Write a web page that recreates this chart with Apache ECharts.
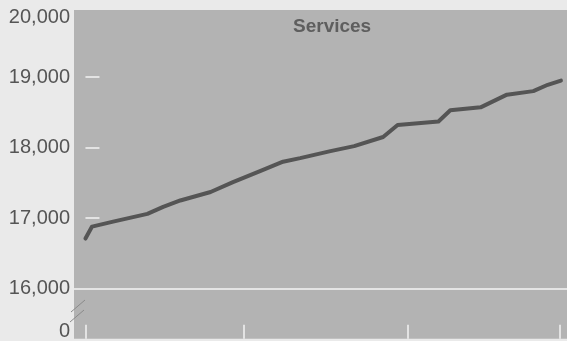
<!DOCTYPE html>
<html>
<head>
<meta charset="utf-8">
<script src="https://cdn.jsdelivr.net/npm/echarts@6/dist/echarts.min.js"></script>
<style>
  html, body { margin: 0; padding: 0; background: #eaeaea; }
  #chart { width: 567px; height: 341px; }
</style>
</head>
<body>
<div id="chart"></div>
<script>
// Month index from the start of the period (0 = first month)
const months = [0, 0.5, 2.1, 4.7, 5.9, 7.2, 9.5, 11.2, 13.3, 15.0, 16.3, 18.6,
                20.4, 22.6, 23.7, 26.8, 27.7, 30.0, 32.0, 34.0, 35.1, 36.1];
// Employment in services, thousands
const services = [16710, 16880, 16950, 17060, 17160, 17250, 17370, 17510, 17670,
                  17800, 17850, 17950, 18020, 18150, 18320, 18370, 18530, 18570,
                  18750, 18800, 18890, 18950];
// Tick positions on the time axis (year boundaries)
const yearTicks = [0, 12, 24.5, 36];
// Labelled values on the value axis; the lowest stands for the broken zero
const yLabelValues = [15400, 16000, 17000, 18000, 19000, 19840];
const yLabelText = ['0', '16,000', '17,000', '18,000', '19,000', '20,000'];
const yTickValues = [17000, 18000, 19000];

const chart = echarts.init(document.getElementById('chart'), null, { renderer: 'canvas' });

chart.setOption({
  backgroundColor: '#eaeaea',
  animation: false,
  title: {
    text: 'Services',
    left: 288,
    top: 12,
    textStyle: { fontFamily: 'Liberation Sans', fontSize: 19, fontWeight: 'bold', color: '#5e5e5e' }
  },
  grid: {
    left: 74, top: 10, right: 0, bottom: 0,
    show: true, backgroundColor: '#b3b3b3', borderWidth: 0
  },
  xAxis: {
    type: 'value',
    min: -0.87, max: 36.56,
    axisLine: { show: false },
    splitLine: { show: false },
    axisLabel: { show: false },
    axisTick: {
      show: true, inside: true, length: 14,
      customValues: yearTicks,
      lineStyle: { color: '#f4f4f4', width: 1.5 }
    }
  },
  yAxis: {
    type: 'value',
    min: 15290, max: 19950,
    axisLine: { show: false },
    splitLine: { show: false },
    axisTick: {
      show: true, inside: true, length: 14,
      customValues: yTickValues,
      lineStyle: { color: '#f4f4f4', width: 1.5 }
    },
    axisLabel: {
      customValues: yLabelValues,
      margin: 4,
      fontFamily: 'Liberation Sans',
      fontSize: 20,
      color: '#555555',
      formatter: function (v) {
        const i = yLabelValues.indexOf(v);
        return i >= 0 ? yLabelText[i] : '';
      }
    }
  },
  graphic: [
    // axis break marks between 0 and 16,000
    { type: 'line', shape: { x1: 71, y1: 312, x2: 85, y2: 300 }, style: { stroke: '#8a8a8a', lineWidth: 1 }, z: 10 },
    { type: 'line', shape: { x1: 70, y1: 322, x2: 84, y2: 310 }, style: { stroke: '#8a8a8a', lineWidth: 1 }, z: 10 }
  ],
  series: [{
    type: 'line',
    data: months.map((m, i) => [m, services[i]]),
    symbol: 'none',
    lineStyle: { color: '#555555', width: 4, join: 'round', cap: 'round' },
    markLine: {
      silent: true,
      symbol: 'none',
      label: { show: false },
      lineStyle: { color: '#f4f4f4', width: 1.5, type: 'solid' },
      data: [{ yAxis: 16000 }]
    }
  }]
});
</script>
</body>
</html>
